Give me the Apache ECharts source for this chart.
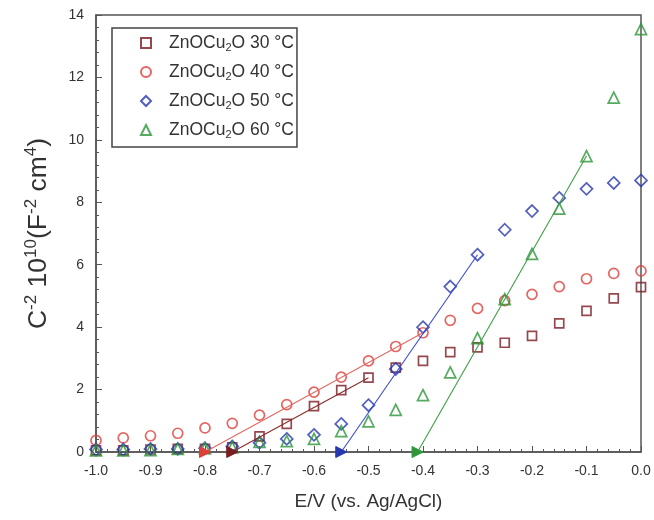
<!DOCTYPE html>
<html>
<head>
<meta charset="utf-8">
<script src="https://cdn.jsdelivr.net/npm/echarts@6/dist/echarts.min.js"></script>
<style>
  html, body { margin: 0; padding: 0; background: #fff; }
  #chart { width: 654px; height: 520px; }
</style>
</head>
<body>
<div id="chart"></div>
<script>
// Potential (V vs. Ag/AgCl)
const potential = [-1.0, -0.95, -0.9, -0.85, -0.8, -0.75, -0.7, -0.65, -0.6, -0.55, -0.5,
                   -0.45, -0.4, -0.35, -0.3, -0.25, -0.2, -0.15, -0.1, -0.05, 0.0];

// C^-2 (x 10^10 F^-2 cm^4) for each deposition temperature
const c30 = [0.05, 0.05, 0.08, 0.1, 0.1, 0.15, 0.5, 0.9, 1.47, 1.98, 2.38,
             2.7, 2.92, 3.2, 3.35, 3.5, 3.72, 4.12, 4.52, 4.92, 5.28];
const c40 = [0.37, 0.45, 0.52, 0.6, 0.77, 0.92, 1.18, 1.52, 1.92, 2.4, 2.92,
             3.38, 3.82, 4.22, 4.6, 4.85, 5.05, 5.3, 5.55, 5.72, 5.8];
const c50 = [0.08, 0.08, 0.1, 0.1, 0.12, 0.18, 0.3, 0.42, 0.55, 0.9, 1.5,
             2.66, 4.0, 5.3, 6.32, 7.12, 7.72, 8.14, 8.43, 8.62, 8.7];
const c60 = [0.05, 0.05, 0.06, 0.1, 0.12, 0.15, 0.32, 0.35, 0.42, 0.67, 0.98,
             1.35, 1.82, 2.55, 3.65, 4.9, 6.35, 7.8, 9.48, 11.35, 13.55];

// Linear Mott-Schottky fits: [flat-band potential, end potential, end value]
const fit30 = [-0.75, -0.5, 2.38];
const fit40 = [-0.80, -0.4, 3.82];
const fit50 = [-0.55, -0.3, 6.32];
const fit60 = [-0.41, -0.1, 9.48];

const seriesNames = ['ZnOCu2O 30 °C', 'ZnOCu2O 40 °C', 'ZnOCu2O 50 °C', 'ZnOCu2O 60 °C'];
const xTicks = ['-1.0', '-0.9', '-0.8', '-0.7', '-0.6', '-0.5', '-0.4', '-0.3', '-0.2', '-0.1', '0.0'];

const markerColors = ['#7a1c22', '#dd3f39', '#2837b0', '#2c9638'];
const lineColors = ['#8a2b2b', '#e26a64', '#3a4ad0', '#3f9f45'];
const symbols = ['rect', 'circle', 'diamond', 'triangle'];
const sizes = [9, 10, 12, 11];

const values = [c30, c40, c50, c60];
const fits = [fit30, fit40, fit50, fit60];

const pairs = arr => potential.map((x, i) => [x, arr[i]]);

const scatterSeries = values.map((arr, k) => ({
  name: seriesNames[k],
  type: 'scatter',
  data: pairs(arr),
  symbol: symbols[k],
  symbolSize: sizes[k],
  itemStyle: { color: 'rgba(255,255,255,0)', borderColor: markerColors[k], borderWidth: 1.7 },
  z: 3
}));

const fitSeries = fits.map((f, k) => ({
  type: 'line',
  data: [
    { value: [f[0], 0], symbol: 'triangle', symbolSize: 11, symbolRotate: -90,
      itemStyle: { color: markerColors[k], borderColor: markerColors[k] } },
    { value: [f[1], f[2]], symbol: 'none' }
  ],
  showSymbol: true,
  lineStyle: { color: lineColors[k], width: 1.1 },
  itemStyle: { color: markerColors[k] },
  silent: true,
  z: 4
}));

const FONT = 'Liberation Sans, Arial, sans-serif';
const chart = echarts.init(document.getElementById('chart'), null, { renderer: 'canvas' });

chart.setOption({
  animation: false,
  backgroundColor: '#fff',
  textStyle: { fontFamily: FONT },
  grid: {
    left: 96, right: 13, top: 15, bottom: 68,
    show: true, borderColor: '#555', borderWidth: 1.5, backgroundColor: 'transparent'
  },
  legend: {
    data: seriesNames,
    orient: 'vertical',
    left: 112, top: 28,
    padding: [6, 3, 7, 28],
    itemWidth: 10, itemHeight: 10,
    itemGap: 10,
    borderColor: '#444', borderWidth: 1.5,
    backgroundColor: '#fff',
    formatter: name => {
      const parts = name.split('Cu2O');
      return '{g|}{a|' + parts[0] + 'Cu}{s|2}{a|O' + parts[1] + '}';
    },
    textStyle: {
      color: '#333',
      rich: {
        g: { width: 13, lineHeight: 20 },
        a: { fontSize: 17.5, color: '#333', lineHeight: 20, fontFamily: FONT },
        s: { fontSize: 11, color: '#333', verticalAlign: 'bottom', lineHeight: 12, padding: [7, 0, 0, 0], fontFamily: FONT }
      }
    }
  },
  xAxis: {
    type: 'value',
    min: -1.0, max: 0.0, interval: 0.1,
    name: 'E/V (vs. Ag/AgCl)',
    nameLocation: 'middle',
    nameGap: 40,
    nameTextStyle: { fontSize: 19, color: '#333' },
    axisLine: { onZero: false, lineStyle: { color: '#555', width: 1.5 } },
    axisTick: { inside: true, length: 6, lineStyle: { color: '#555' } },
    minorTick: { show: true, splitNumber: 5, length: 3, lineStyle: { color: '#555' } },
    splitLine: { show: false },
    axisLabel: {
      fontSize: 14, color: '#333', margin: 12,
      formatter: v => xTicks[Math.round((v + 1.0) * 10)]
    }
  },
  yAxis: {
    type: 'value',
    min: 0, max: 14, interval: 2,
    position: 'left',
    name: '{b|C}{p|-2}{b| 10}{p|10}{b|(F}{p|-2}{b| cm}{p|4}{b|)}',
    nameLocation: 'middle',
    nameGap: 41,
    nameRotate: 90,
    nameTextStyle: {
      color: '#333',
      rich: {
        b: { fontSize: 26.5, color: '#333', lineHeight: 32, fontFamily: FONT },
        p: { fontSize: 17, color: '#333', lineHeight: 32, verticalAlign: 'top', padding: [0, 0, 9, 0], fontFamily: FONT }
      }
    },
    axisLine: { onZero: false, lineStyle: { color: '#555', width: 1.5 } },
    axisTick: { inside: true, length: 6, lineStyle: { color: '#555' } },
    minorTick: { show: true, splitNumber: 5, length: 3, lineStyle: { color: '#555' } },
    splitLine: { show: false },
    axisLabel: { fontSize: 14, color: '#333', margin: 12 }
  },
  series: [...scatterSeries, ...fitSeries]
});
</script>
</body>
</html>
